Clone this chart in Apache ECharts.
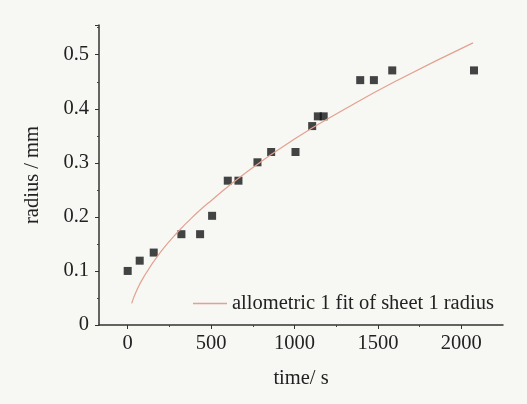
<!DOCTYPE html>
<html>
<head>
<meta charset="utf-8">
<script src="https://cdn.jsdelivr.net/npm/echarts@6/dist/echarts.min.js"></script>
<style>
html,body{margin:0;padding:0;background:#f7f7f4;}
#c{width:527px;height:404px;}
</style>
</head>
<body>
<div id="c"></div>
<script>
// measured data (time / s, radius / mm)
var timeData = [0, 72, 156, 322, 434, 506, 600, 664, 778, 860, 1006, 1106, 1140, 1175, 1394, 1476, 1586, 2076];
var radiusData = [0.100, 0.119, 0.134, 0.168, 0.168, 0.202, 0.267, 0.267, 0.301, 0.320, 0.320, 0.368, 0.386, 0.386, 0.453, 0.453, 0.471, 0.471];
// allometric fit curve
var fitTime = [24, 50, 100, 200, 300, 400, 500, 700, 1000, 1300, 1600, 2070];
var fitRadius = [0.040, 0.061, 0.091, 0.136, 0.172, 0.203, 0.230, 0.280, 0.344, 0.399, 0.450, 0.522];
var xTicks = [0, 500, 1000, 1500, 2000];
var xMinorTicks = [250, 750, 1250, 1750];

var pts = timeData.map(function(t, i){ return [t, radiusData[i]]; });
var fit = fitTime.map(function(t, i){ return [t, fitRadius[i]]; });

var font = '"Liberation Serif", "DejaVu Serif", serif';
var txt = '#222222';
var chart = echarts.init(document.getElementById('c'));
chart.setOption({
  backgroundColor: '#f7f7f4',
  animation: false,
  grid: [
    {left: 99, right: 24, top: 25, bottom: 79},
    {left: 99, right: 24, top: 25, bottom: 79}
  ],
  legend: {
    data: [{name: 'allometric 1 fit of sheet 1 radius', icon: 'rect'}],
    left: 188, top: 288,
    itemWidth: 34, itemHeight: 1.3, itemGap: 0,
    textStyle: {fontFamily: font, fontSize: 20.5, color: txt}
  },
  xAxis: [{
    type: 'value', min: -172, max: 2250, gridIndex: 0,
    name: 'time/ s', nameLocation: 'middle', nameGap: 43,
    nameTextStyle: {fontFamily: font, fontSize: 20.5, color: txt},
    axisLine: {onZero: false, lineStyle: {color: '#333', width: 1.5}},
    axisTick: {show: true, length: 4, lineStyle: {color: '#333'},
      customValues: xTicks},
    axisLabel: {fontFamily: font, fontSize: 20.5, color: txt, margin: 8,
      customValues: xTicks,
      formatter: function(v){ return String(v); }},
    splitLine: {show: false}
  }, {
    type: 'value', min: -172, max: 2250, gridIndex: 1,
    axisLine: {show: false},
    axisTick: {show: true, length: 2, lineStyle: {color: '#444'},
      customValues: xMinorTicks},
    axisLabel: {show: false},
    splitLine: {show: false}
  }],
  yAxis: [{
    type: 'value', min: 0, max: 0.555, interval: 0.1, gridIndex: 0,
    name: 'radius / mm', nameLocation: 'middle', nameGap: 56,
    nameTextStyle: {fontFamily: font, fontSize: 20.5, color: txt},
    axisLine: {show: true, onZero: false, lineStyle: {color: '#333', width: 1.5}},
    axisTick: {show: true, length: 4, lineStyle: {color: '#333'}},
    minorTick: {show: true, splitNumber: 2, length: 2, lineStyle: {color: '#444'}},
    axisLabel: {fontFamily: font, fontSize: 20.5, color: txt, margin: 10,
      showMaxLabel: false,
      formatter: function(v){ return v === 0 ? '0' : v.toFixed(1); }},
    splitLine: {show: false}
  }, {
    type: 'value', min: 0, max: 0.555, gridIndex: 1, show: false
  }],
  series: [
    {
      name: 'radius', type: 'scatter', data: pts,
      symbol: 'rect', symbolSize: 8,
      itemStyle: {color: '#141717'}
    },
    {
      name: 'allometric 1 fit of sheet 1 radius', type: 'line', data: fit,
      smooth: true, symbol: 'none',
      lineStyle: {color: '#e3a18f', width: 1.2},
      itemStyle: {color: '#e3a18f'}
    }
  ]
});
</script>
</body>
</html>
